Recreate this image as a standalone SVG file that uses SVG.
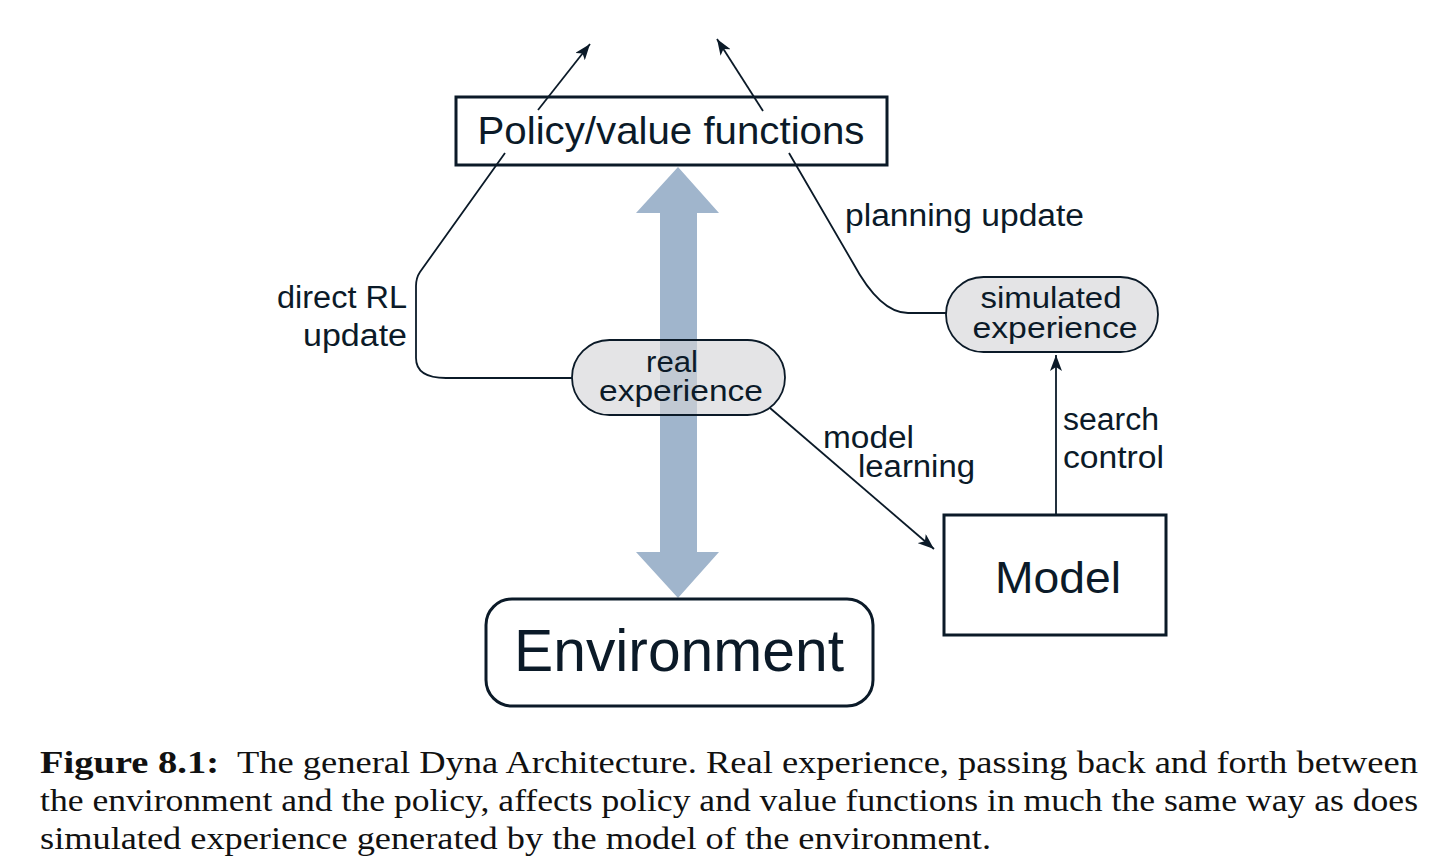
<svg xmlns="http://www.w3.org/2000/svg" width="1448" height="856" viewBox="0 0 1448 856">
<style>
.lbl{font-family:"Liberation Sans",Arial,sans-serif;fill:#0b1a28}
.box{fill:#ffffff;stroke:#0b1a28;stroke-width:3}
.pill{fill:#d4d4d8;fill-opacity:0.63;stroke:#0b1a28;stroke-width:1.8}
.conn{fill:none;stroke:#0b1a28;stroke-width:1.8}
.cap{font-family:"Liberation Serif","Times New Roman",serif;fill:#111111;font-size:31px}
</style>
<defs>
<marker id="ah" markerUnits="userSpaceOnUse" markerWidth="18" markerHeight="12" refX="16" refY="6" orient="auto">
<path d="M0,0 L16,6 L0,12 L4,6 Z" fill="#0b1a28"/>
</marker>
</defs>
<rect width="1448" height="856" fill="#ffffff"/>

<g id="real-exchange-arrow">
<path d="M678,167 L719,213 L697,213 L697,552 L719,552 L678,598 L636,552 L660,552 L660,213 L636,213 Z" fill="#a0b5cc"/>
</g>

<g id="policy">
<rect class="box" x="456" y="97" width="431" height="68"/>
<text class="lbl" x="671" y="144" font-size="39" text-anchor="middle" textLength="387" lengthAdjust="spacingAndGlyphs">Policy/value functions</text>
</g>

<g id="environment">
<rect class="box" x="486" y="599" width="387" height="107" rx="26"/>
<text class="lbl" x="679" y="671" font-size="59" text-anchor="middle" textLength="330" lengthAdjust="spacingAndGlyphs">Environment</text>
</g>

<g id="model">
<rect class="box" x="944" y="515" width="222" height="120"/>
<text class="lbl" x="1058" y="593" font-size="45" text-anchor="middle" textLength="126" lengthAdjust="spacingAndGlyphs">Model</text>
</g>

<g id="real-experience">
<rect class="pill" x="572" y="340" width="213" height="75" rx="37.5"/>
<text class="lbl" x="672" y="372" font-size="30" text-anchor="middle" textLength="52" lengthAdjust="spacingAndGlyphs">real</text>
<text class="lbl" x="681" y="401" font-size="30" text-anchor="middle" textLength="164" lengthAdjust="spacingAndGlyphs">experience</text>
</g>

<g id="simulated-experience">
<rect class="pill" x="946" y="277" width="212" height="75" rx="37.5"/>
<text class="lbl" x="1051" y="308" font-size="30" text-anchor="middle" textLength="141" lengthAdjust="spacingAndGlyphs">simulated</text>
<text class="lbl" x="1055" y="338" font-size="30" text-anchor="middle" textLength="165" lengthAdjust="spacingAndGlyphs">experience</text>
</g>

<g id="connectors">
<path class="conn" d="M538,110 L590,44" marker-end="url(#ah)"/>
<path class="conn" d="M763,111 L717,39" marker-end="url(#ah)"/>
<path class="conn" d="M505,153 L420,272 Q416,278 416,286 L416,358 Q416,378 446,378 L572,378"/>
<path class="conn" d="M789,153 L853,263 Q880,313 908,313 L946,313"/>
<path class="conn" d="M770,408 L934,549" marker-end="url(#ah)"/>
<path class="conn" d="M1056,514 L1056,355" marker-end="url(#ah)"/>
</g>

<g id="edge-labels">
<text class="lbl" x="845" y="226" font-size="31" textLength="239" lengthAdjust="spacingAndGlyphs">planning update</text>
<text class="lbl" x="407" y="308" font-size="31" text-anchor="end" textLength="130" lengthAdjust="spacingAndGlyphs">direct RL</text>
<text class="lbl" x="407" y="346" font-size="31" text-anchor="end" textLength="104" lengthAdjust="spacingAndGlyphs">update</text>
<text class="lbl" x="823" y="448" font-size="31" textLength="91" lengthAdjust="spacingAndGlyphs">model</text>
<text class="lbl" x="858" y="477" font-size="31" textLength="117" lengthAdjust="spacingAndGlyphs">learning</text>
<text class="lbl" x="1063" y="430" font-size="31" textLength="96" lengthAdjust="spacingAndGlyphs">search</text>
<text class="lbl" x="1063" y="468" font-size="31" textLength="101" lengthAdjust="spacingAndGlyphs">control</text>
</g>

<g id="caption">
<text class="cap" x="40" y="773" font-weight="bold" textLength="179" lengthAdjust="spacingAndGlyphs">Figure 8.1:</text>
<text class="cap" x="237" y="773" textLength="1181" lengthAdjust="spacingAndGlyphs">The general Dyna Architecture. Real experience, passing back and forth between</text>
<text class="cap" x="40" y="811" textLength="1378" lengthAdjust="spacingAndGlyphs">the environment and the policy, affects policy and value functions in much the same way as does</text>
<text class="cap" x="40" y="849" textLength="951" lengthAdjust="spacingAndGlyphs">simulated experience generated by the model of the environment.</text>
</g>
</svg>
